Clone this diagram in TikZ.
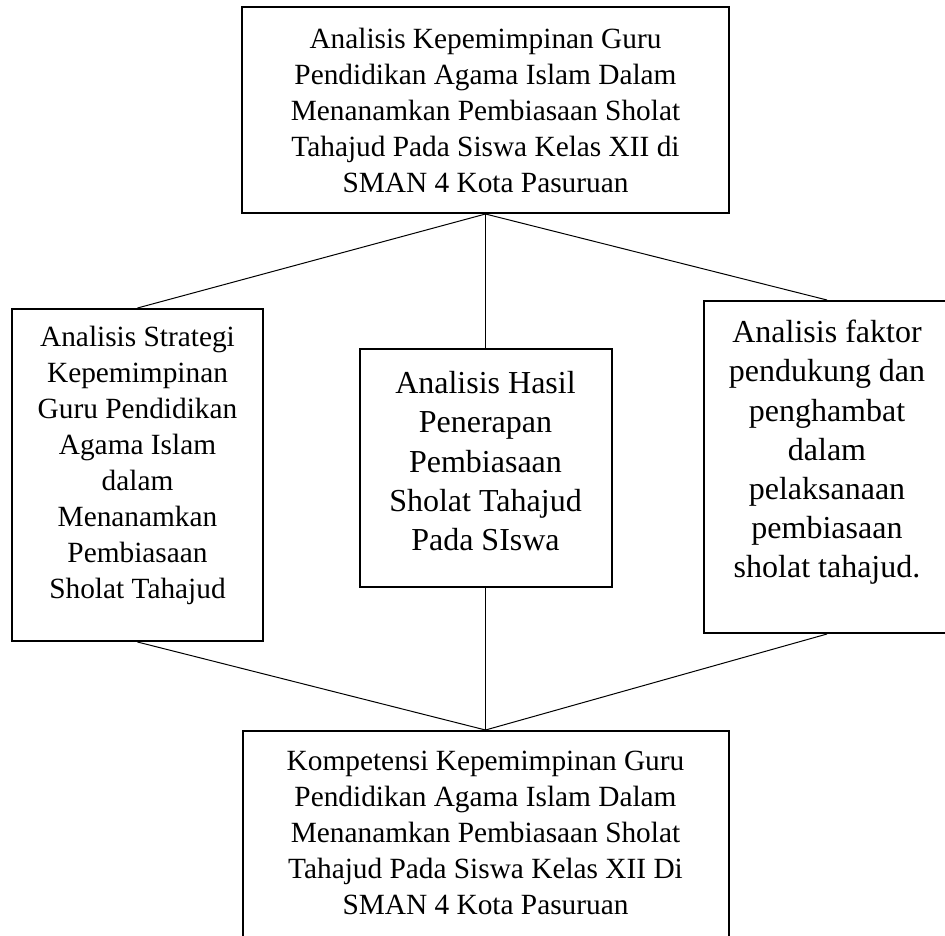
\documentclass[tikz,border=0pt]{standalone}
\usepackage{fontspec}
\setmainfont{Liberation Serif}
\usetikzlibrary{positioning}

% extra depth under the last line, lifts the text inside a box
\newcommand{\liftby}[1]{\rule[-#1]{0pt}{#1}}

\begin{document}
\begin{tikzpicture}[
  x=0.75pt, y=-0.75pt,
  box/.style={draw, line width=1.5pt, align=center, inner sep=0pt},
  small/.style={font=\fontsize{22}{27}\selectfont},
  large/.style={font=\fontsize{24}{29.4}\selectfont},
  link/.style={line width=0.75pt},
  node distance=100.5pt
]
\useasboundingbox (0,0) rectangle (945,935);

%% --- Research focus ------------------------------------------
\node[box, small, minimum width=365.25pt, minimum height=154.5pt] (focus)
     at (485.5,110)
     {Analisis Kepemimpinan Guru\\
      Pendidikan Agama Islam Dalam\\
      Menanamkan Pembiasaan Sholat\\
      Tahajud Pada Siswa Kelas XII di\\
      SMAN 4 Kota Pasuruan};

%% --- Three analyses ------------------------------------------
\node[box, large, minimum width=189pt, minimum height=178.5pt,
      below=of focus] (hasil)
     {Analisis Hasil\\
      Penerapan\\
      Pembiasaan\\
      Sholat Tahajud\\
      Pada SIswa\liftby{10.5pt}};

\node[box, small, minimum width=188.25pt, minimum height=249pt] (strategi)
     at (137.5,475)
     {Analisis Strategi\\
      Kepemimpinan\\
      Guru Pendidikan\\
      Agama Islam\\
      dalam\\
      Menanamkan\\
      Pembiasaan\\
      Sholat Tahajud\liftby{19pt}};

\node[box, large, minimum width=184.5pt, minimum height=249pt] (faktor)
     at (827,467)
     {Analisis faktor\\
      pendukung dan\\
      penghambat\\
      dalam\\
      pelaksanaan\\
      pembiasaan\\
      sholat tahajud.\liftby{27pt}};

%% --- Outcome -------------------------------------------------
\node[box, small, minimum width=364.5pt, minimum height=159.75pt,
      below=106.5pt of hasil] (kompetensi)
     {Kompetensi Kepemimpinan Guru\\
      Pendidikan Agama Islam Dalam\\
      Menanamkan Pembiasaan Sholat\\
      Tahajud Pada Siswa Kelas XII Di\\
      SMAN 4 Kota Pasuruan\liftby{7pt}};

%% --- Connectors ----------------------------------------------
\draw[link] (focus.south) -- (strategi.north);
\draw[link] (focus.south) -- (hasil.north);
\draw[link] (focus.south) -- (faktor.north);

\draw[link] (strategi.south) -- (kompetensi.north);
\draw[link] (hasil.south)    -- (kompetensi.north);
\draw[link] (faktor.south)   -- (kompetensi.north);

\end{tikzpicture}
\end{document}
